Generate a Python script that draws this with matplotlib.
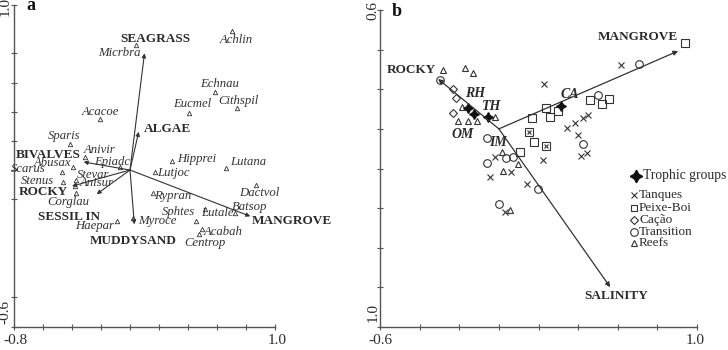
import matplotlib
matplotlib.use("Agg")
import matplotlib.pyplot as plt

plt.rcParams['font.family'] = ['Liberation Serif', 'DejaVu Serif']

# ---------- panel a: species / environment biplot ----------
env_a = ["SEAGRASS", "ALGAE", "BIVALVES", "ROCKY", "SESSIL IN", "MUDDYSAND", "MANGROVE"]
env_a_x = [0.10, 0.06, -0.32, -0.40, -0.23, 0.03, 0.83]
env_a_y = [0.76, 0.37, 0.22, 0.10, 0.06, -0.09, -0.05]
env_a_lx = [0.172, 0.097, -0.562, -0.597, -0.424, 0.021, 0.841]
env_a_ly = [0.831, 0.384, 0.255, 0.071, -0.053, -0.173, -0.073]
origin_a = (0.0, 0.18)

species = ["Micrbra", "Achlin", "Echnau", "Eucmel", "Cithspil", "Acacoe", "Sparis",
           "Anivir", "Epiadc", "Hipprei", "Lutana", "Lutjoc", "Abusax", "Scarus",
           "Stevar", "Stenus", "Anisur", "Corglau", "Rypran", "Dactvol", "Batsop",
           "Sphtes", "Lutale", "Myroce", "Haepar", "Acabah", "Centrop"]
sp_x = [0.04, 0.70, 0.586, 0.407, 0.738, -0.207, -0.414, -0.310, -0.069, 0.290, 0.662,
        0.172, -0.393, -0.47, -0.372, -0.462, -0.379, -0.372, 0.159, 0.869, 0.724,
        0.455, 0.517, 0.021, -0.090, 0.497, 0.476]
sp_y = [0.80, 0.87, 0.568, 0.463, 0.488, 0.434, 0.309, 0.245, 0.195, 0.225, 0.190,
        0.170, 0.195, 0.17, 0.130, 0.120, 0.101, 0.066, 0.066, 0.106, -0.034,
        -0.073, -0.014, -0.058, -0.073, -0.113, -0.138]
sp_lx = [-0.076, 0.731, 0.621, 0.428, 0.745, -0.207, -0.455, -0.207, -0.124, 0.462, 0.814,
         0.297, -0.538, -0.703, -0.255, -0.641, -0.228, -0.428, 0.297, 0.890, 0.828,
         0.331, 0.600, 0.186, -0.241, 0.641, 0.517]
sp_ly = [0.761, 0.826, 0.607, 0.508, 0.523, 0.468, 0.349, 0.280, 0.220, 0.235, 0.220,
         0.165, 0.215, 0.185, 0.155, 0.125, 0.116, 0.021, 0.051, 0.066, -0.004,
         -0.029, -0.034, -0.073, -0.098, -0.128, -0.183]

# ---------- panel b: sites / trophic groups ----------
env_b = ["ROCKY", "SALINITY", "MANGROVE"]
env_b_x = [-0.307, 0.562, 0.905]
env_b_y = [0.252, -0.799, 0.393]
env_b_lx = [-0.317, 0.592, 0.703]
env_b_ly = [0.297, -0.844, 0.464]

trophic = ["RH", "OM", "TH", "CA", "IM"]
tro_x = [-0.156, -0.125, -0.055, 0.314]
tro_y = [0.105, 0.075, 0.060, 0.115]
tro_lx = [-0.120, -0.181, -0.039, 0.360, -0.004]
tro_ly = [0.181, -0.026, 0.115, 0.171, -0.067]

tanq_x = [0.228, 0.617, 0.223, -0.044, 0.142, -0.019, 0.344, 0.385, 0.425, 0.451,
          0.400, 0.415, 0.445, 0.031, 0.062]
tanq_y = [0.226, 0.322, -0.158, -0.243, -0.279, -0.142, 0.004, 0.029, 0.055, 0.070,
          -0.031, -0.137, -0.122, -0.420, -0.218]
peixe_x = [0.238, 0.299, 0.168, 0.259, 0.178, 0.107, 0.461, 0.521, 0.557, 0.940]
peixe_y = [0.105, 0.090, 0.055, 0.060, -0.067, -0.117, 0.145, 0.125, 0.151, 0.433]
peixe2_x = [0.153, 0.238]
peixe2_y = [-0.016, -0.087]
cacao_x = [-0.231, -0.216, -0.231]
cacao_y = [0.201, 0.156, 0.080]
trans_x = [-0.297, -0.060, -0.060, 0.036, 0.072, 0.198, 0.001, 0.501, 0.425, 0.708]
trans_y = [0.246, -0.046, -0.173, -0.147, -0.142, -0.304, -0.380, 0.171, -0.077, 0.327]
reef_x = [-0.282, -0.171, -0.130, -0.186, -0.206, -0.156, -0.110, -0.019, 0.016,
          0.097, 0.021, 0.057]
reef_y = [0.297, 0.307, 0.282, 0.110, 0.039, 0.039, 0.039, 0.060, -0.117,
          -0.178, -0.213, -0.410]

legend_labels = ["Tanques", "Peixe-Boi", "Cação", "Transition", "Reefs"]

ink = "#2b2b2b"
fig = plt.figure(figsize=(7.28, 3.5), dpi=100)
axa = fig.add_axes([14/728, 23/350, 261/728, 322/350])
axb = fig.add_axes([380/728, 23/350, 317/728, 317/350])

for ax in (axa, axb):
    for s in ("top", "right"):
        ax.spines[s].set_visible(False)
    for s in ("left", "bottom"):
        ax.spines[s].set_color("#555555")
        ax.spines[s].set_linewidth(1.0)
    ax.tick_params(direction="inout", length=4, width=0.8, color="#555555",
                   labelleft=False, labelbottom=False)

# panel a
axa.set_xlim(-0.8, 1.0)
axa.set_ylim(-0.6, 1.0)
axa.set_xticks([-0.8, -0.6, -0.4, -0.2, 0.0, 0.2, 0.4, 0.6, 0.8, 1.0])
axa.set_yticks([-0.6, -0.451, 0.036, 0.180, 0.324, 0.468, 0.612, 0.761, 1.0])
for x, y, lx, ly, name in zip(env_a_x, env_a_y, env_a_lx, env_a_ly, env_a):
    axa.annotate("", xy=(x, y), xytext=origin_a,
                 arrowprops=dict(arrowstyle="-|>", color="#333333", lw=0.8,
                                 mutation_scale=6, shrinkA=0, shrinkB=0))
    ha = "left" if name in ("ALGAE", "MANGROVE") else "center"
    axa.text(lx, ly, name, ha=ha, va="center", fontsize=9.5, fontweight="bold", color=ink)
axa.plot(sp_x, sp_y, linestyle="none", marker="^", markersize=3.2,
         markerfacecolor="white", markeredgecolor="#333333", markeredgewidth=0.6)
for lx, ly, name in zip(sp_lx, sp_ly, species):
    axa.text(lx, ly, name, ha="center", va="center", fontsize=9.2, style="italic",
             color="#333333")

# panel b
axb.set_xlim(-0.6, 1.0)
axb.set_ylim(-1.0, 0.6)
axb.set_xticks([-0.6, -0.4, -0.2, 0.0, 0.2, 0.4, 0.6, 0.8, 1.0])
axb.set_yticks([-1.0, -0.8, -0.6, -0.4, -0.2, 0.0, 0.2, 0.4, 0.6])
for x, y, lx, ly, name in zip(env_b_x, env_b_y, env_b_lx, env_b_ly, env_b):
    axb.annotate("", xy=(x, y), xytext=(0, 0),
                 arrowprops=dict(arrowstyle="-|>", color="#333333", lw=0.9,
                                 mutation_scale=7, shrinkA=0, shrinkB=0))
    ha = "right" if name == "ROCKY" else "center"
    axb.text(lx, ly, name, ha=ha, va="center", fontsize=9.5, fontweight="bold", color=ink)

mk = dict(linestyle="none", markerfacecolor="none", markeredgecolor="#333333",
          markeredgewidth=0.8)
axb.plot(tanq_x, tanq_y, marker="x", markersize=5, **mk)
axb.plot(peixe_x, peixe_y, marker="s", markersize=5.5, **mk)
axb.plot(peixe2_x, peixe2_y, marker="s", markersize=5.5, **mk)
axb.plot(peixe2_x, peixe2_y, marker="x", markersize=3, **mk)
axb.plot(cacao_x, cacao_y, marker="D", markersize=4.2, **mk)
axb.plot(trans_x, trans_y, marker="o", markersize=5.5, **mk)
axb.plot(reef_x, reef_y, marker="^", markersize=4.2, **mk)
axb.plot(tro_x, tro_y, linestyle="none", marker=(4, 1, 0), markersize=7,
         color="#111111")
for lx, ly, name in zip(tro_lx, tro_ly, trophic):
    axb.text(lx, ly, name, ha="center", va="center", fontsize=10, fontweight="bold",
             style="italic", color=ink)

# axis end labels
fig.text(15/728, 1 - 340/350, "-0.8", ha="center", va="center", fontsize=11, color=ink)
fig.text(277/728, 1 - 340/350, "1.0", ha="center", va="center", fontsize=11, color=ink)
fig.text(5/728, 1 - 312/350, "-0.6", ha="center", va="center", fontsize=11, rotation=90, color=ink)
fig.text(5/728, 1 - 6/350, "1.0", ha="center", va="center", fontsize=11, rotation=90, color=ink)
fig.text(380/728, 1 - 340/350, "-0.6", ha="center", va="center", fontsize=11, color=ink)
fig.text(695/728, 1 - 340/350, "1.0", ha="center", va="center", fontsize=11, color=ink)
fig.text(373/728, 1 - 312/350, "1.0", ha="center", va="center", fontsize=11, rotation=90, color=ink)
fig.text(373/728, 1 - 10/350, "0.6", ha="center", va="center", fontsize=11, rotation=90, color=ink)
fig.text(31/728, 1 - 5/350, "a", ha="center", va="center", fontsize=13, fontweight="bold", color="#111111")
fig.text(397/728, 1 - 12/350, "b", ha="center", va="center", fontsize=13, fontweight="bold", color="#111111")

# legend
fig.lines.append(plt.Line2D([636/728], [1 - 176/350], marker=(4, 1, 0), markersize=9,
                            color="#111111", linestyle="none", transform=fig.transFigure))
fig.text(643/728, 1 - 176/350, "Trophic groups", ha="left", va="center", fontsize=9.8, color=ink)
leg_markers = ["x", "s", "D", "o", "^"]
leg_sizes = [4, 5, 4, 5.5, 4.5]
leg_y = [195, 208, 220, 232, 243]
for m, s, yy, lab in zip(leg_markers, leg_sizes, leg_y, legend_labels):
    fig.lines.append(plt.Line2D([634/728], [1 - yy/350], marker=m, markersize=s,
                                markerfacecolor="none", markeredgecolor="#333333",
                                markeredgewidth=0.8, linestyle="none",
                                transform=fig.transFigure))
    fig.text(639/728, 1 - yy/350, lab, ha="left", va="center", fontsize=9.5, color=ink)

fig.savefig("out.png", dpi=100)
